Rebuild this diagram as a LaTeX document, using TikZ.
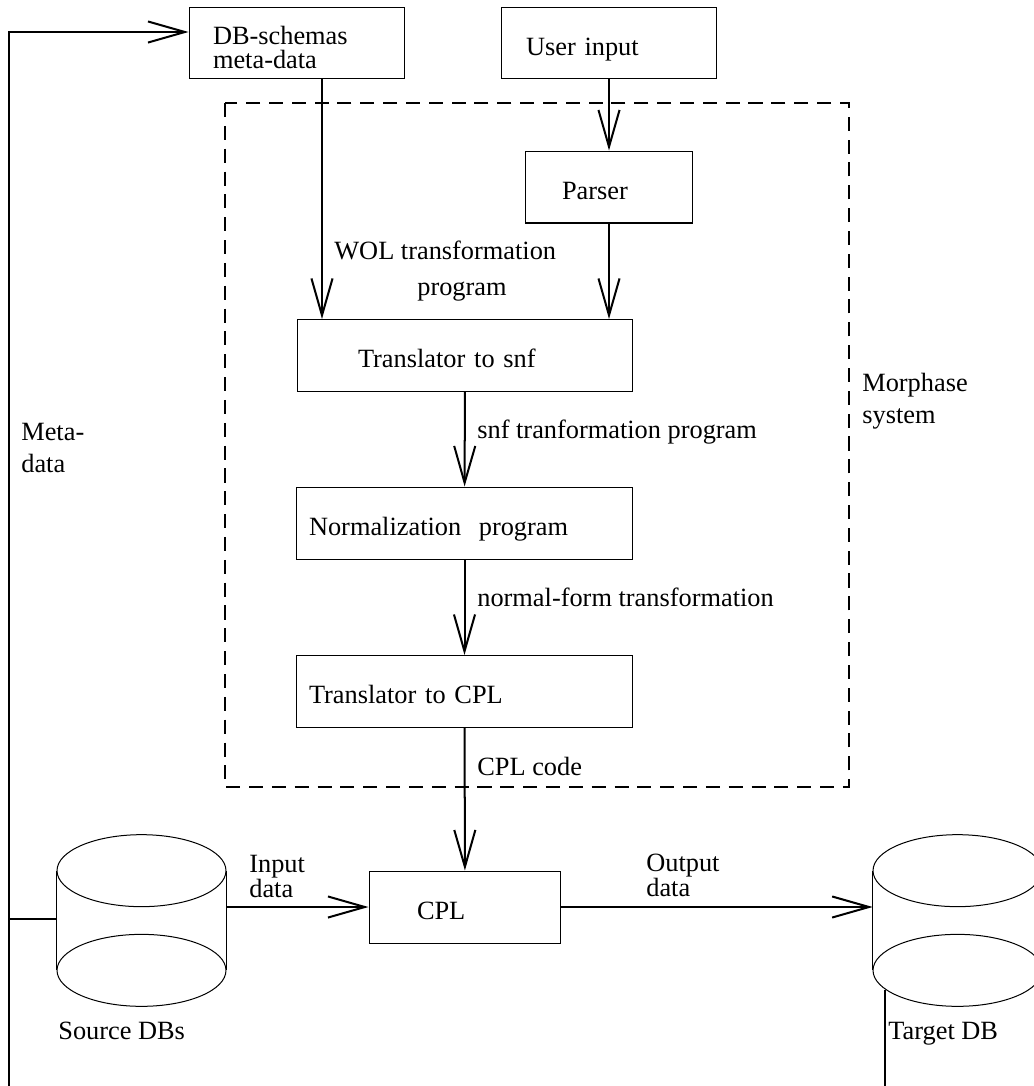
\documentclass[tikz,border=0pt]{standalone}
\usepackage{fontspec}
\setmainfont{Liberation Serif}
\usepackage{tikz}
\usetikzlibrary{arrows.meta,shapes}

\begin{document}
\begin{tikzpicture}[x=0.02cm, y=-0.02cm, font=\fontsize{15pt}{18pt}\selectfont]
			\tikzstyle{Box}		= [draw, rectangle, line width=0.57pt, minimum height=1.44cm, inner ysep=0pt, align=left, text height=13.7pt, text depth=0pt]
			\tikzstyle{DB}		= [rectangle, minimum width=3.38cm, minimum height=3.42cm, inner sep=0pt]
			\tikzstyle{Label}	= [anchor=base west, inner sep=0pt, align=left]
			\tikzstyle{Flow}	= [line width=1.14pt, -{Straight Barb[length=21pt, width=12pt]}]
			\tikzstyle{Line}	= [line width=1.14pt]
			\tikzstyle{Cyl}		= [line width=0.57pt]
			\tikzstyle{Frame}	= [line width=1.14pt, dash pattern=on 8pt off 5pt]

			\useasboundingbox (0,0) rectangle (1034,1086);

			\draw [Frame] (225,103) rectangle (849,787);

			\node (dbmeta) at (297,43) [Box][text width=3.36cm, inner xsep=0.48cm, text height=1.5pt] {DB-schemas\\[-4pt]meta-data};
			\node (user) at (609,43) [Box][text width=3.32cm, inner xsep=0.5cm] {User input};
			\node (parser) at (609,187) [Box][text width=1.88cm, inner xsep=0.74cm] {Parser};
			\node (tsnf) at (465,355.5) [Box][text width=4.28cm, inner xsep=1.22cm] {Translator to snf};
			\node (norm) at (464.5,523) [Box][text width=6.22cm, inner xsep=0.26cm] {Normalization\ \ program};
			\node (tcpl) at (464.5,691.5) [Box][text width=6.22cm, inner xsep=0.26cm] {Translator to CPL};
			\node (cpl) at (465,907) [Box][text width=1.92cm, inner xsep=0.96cm] {CPL};

			\node (src) at (141.5,920.5) [DB] {};
			\node (tgt) at (957.5,920.5) [DB] {};
			\foreach \c in {src,tgt} {
				\draw [Cyl] ([yshift=-0.72cm]\c.north) ellipse [x radius=1.69cm, y radius=0.72cm];
				\draw [Cyl] ([yshift=0.72cm]\c.south) ellipse [x radius=1.69cm, y radius=0.72cm];
				\draw [Cyl] ([yshift=-0.72cm]\c.north west) -- ([yshift=0.72cm]\c.south west);
				\draw [Cyl] ([yshift=-0.72cm]\c.north east) -- ([yshift=0.72cm]\c.south east);
			}

			\coordinate (wol) at (322,0);
			\coordinate (top) at (9,32);
			\coordinate (lft) at (9,919);
			\coordinate (lbot) at (9,1086);
			\coordinate (tout) at (885,990);
			\coordinate (tbot) at (885,1086);

			\draw [Flow] (dbmeta.south -| wol) to (tsnf.north -| wol);
			\draw [Flow] (user) to (parser);
			\draw [Flow] (parser) to (tsnf.north -| parser);
			\draw [Flow] (tsnf) to (norm);
			\draw [Flow] (norm) to (tcpl);
			\draw [Flow] (tcpl) to (cpl);
			\draw [Flow] (src.east |- cpl) to (cpl.west);
			\draw [Flow] (cpl.east) to (tgt.west |- cpl);
			\draw [Flow] (lbot) -- (top) -- (dbmeta.west |- top);
			\draw [Line] (src.west |- lft) to (lft);
			\draw [Line] (tout) to (tbot);

			% multi-line labels sit on their last line
			\node (wolLbl) at (334,295) [Label] {WOL transformation\\[2pt]\hspace*{1.66cm}program};
			\node (snfLbl) at (477,438) [Label] {snf tranformation program};
			\node (nfLbl) at (477,606) [Label] {normal-form transformation};
			\node (codeLbl) at (477,775) [Label] {CPL code};
			\node (morphLbl) at (862,423) [Label] {Morphase\\system};
			\node (metaLbl) at (21,472) [Label] {Meta-\\data};
			\node (inLbl) at (249,897) [Label] {Input\\[-4pt]data};
			\node (outLbl) at (646,896) [Label] {Output\\[-4pt]data};
			\node (srcLbl) at (58,1039) [Label] {Source DBs};
			\node (tgtLbl) at (888,1039) [Label] {Target DB};
\end{tikzpicture}
\end{document}
